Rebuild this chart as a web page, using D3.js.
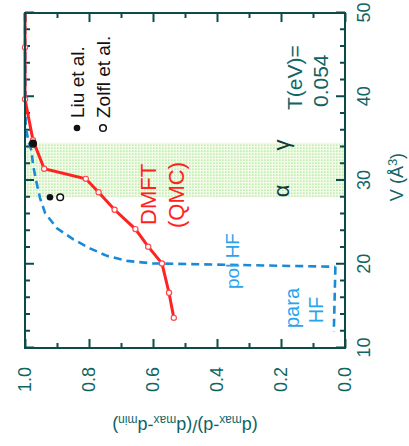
<!DOCTYPE html>
<html>
<head>
<meta charset="utf-8">
<script src="https://cdn.jsdelivr.net/npm/d3@7"></script>
<style>
  html, body { margin: 0; padding: 0; background: #ffffff; }
  svg { display: block; }
  text { font-family: "Liberation Sans", Arial, sans-serif; }
</style>
</head>
<body>
<svg id="chart" width="409" height="446"></svg>
<script>
// Axis ticks
const volumeTicks = [10, 20, 30, 40, 50];
const volumeMinorTicks = [12, 14, 16, 18, 22, 24, 26, 28, 32, 34, 36, 38, 42, 44, 46, 48];
const ratioTicks = [0.0, 0.2, 0.4, 0.6, 0.8, 1.0];
const ratioMinorTicks = [0.1, 0.3, 0.5, 0.7, 0.9];

// DMFT (QMC) double-occupancy ratio vs. volume, T = 0.054 eV
const dmftVolume = [50.0, 45.9, 39.7, 34.8, 31.4, 30.2, 28.6, 26.5, 24.2, 22.1, 20.1, 16.6, 13.6];
const dmftRatio  = [1.0, 1.0, 1.0, 0.975, 0.94, 0.81, 0.77, 0.72, 0.655, 0.615, 0.572, 0.55, 0.535];

// Polarized Hartree-Fock
const polHfVolume = [50.0, 36.5, 34.8, 33.6, 31.9, 30.1, 27.9, 26.1, 24.3, 23.0, 21.9, 21.0, 20.4, 20.1, 19.7];
const polHfRatio  = [1.0, 0.998, 0.99, 0.98, 0.975, 0.966, 0.953, 0.937, 0.9, 0.85, 0.797, 0.744, 0.681, 0.6, 0.03];

// Paramagnetic Hartree-Fock
const paraHfVolume = [19.7, 11.9];
const paraHfRatio  = [0.03, 0.035];

// Experimental alpha / gamma volumes
const liuVolume   = [34.4, 28.0];
const liuRatio    = [0.975, 0.922];
const zolflVolume = [34.4, 28.0];
const zolflRatio  = [0.975, 0.89];

// Alpha-gamma coexistence band (volume range)
const phaseBand = [28.0, 34.5];

const axisColor = "#0d4b4b";
const labelColor = "#0f6464";
const red = "#ff2222";
const blue = "#1a8ad6";
const lightBlue = "#2aa3ec";

// The figure is laid out in a 446 x 409 frame, then turned a quarter turn
// counter-clockwise so the volume axis runs up the right-hand side.
const W = 446, H = 409;
const svg = d3.select("#chart");
const defs = svg.append("defs");
const g = svg.append("g").attr("transform", `translate(0,${W}) rotate(-90)`);

const x = d3.scaleLinear().domain([10, 50]).range([98, 433]);
const y = d3.scaleLinear().domain([0, 1]).range([345, 25]);

// dotted green fill for the coexistence region
const pat = defs.append("pattern")
  .attr("id", "dots").attr("patternUnits", "userSpaceOnUse")
  .attr("width", 3).attr("height", 3);
pat.append("rect").attr("width", 3).attr("height", 3).attr("fill", "#f3fbe6");
pat.append("rect").attr("width", 1.6).attr("height", 1.6).attr("fill", "#bdeeb4");

g.append("rect")
  .attr("x", x(phaseBand[0])).attr("y", y(1))
  .attr("width", x(phaseBand[1]) - x(phaseBand[0]))
  .attr("height", y(0) - y(1))
  .attr("fill", "url(#dots)");

// ticks on all four sides, pointing inward
function styleAxis(sel) {
  sel.select(".domain").remove();
  sel.selectAll(".tick line").attr("stroke", axisColor).attr("stroke-width", 2);
  sel.selectAll("text").attr("fill", labelColor).attr("font-size", 18)
    .style("font-family", '"Liberation Sans", Arial, sans-serif');
}
const noLabel = () => "";

g.append("g").attr("transform", `translate(0,${y(0)})`)
  .call(d3.axisBottom(x).tickValues(volumeMinorTicks).tickSize(-5).tickFormat(noLabel)).call(styleAxis);
g.append("g").attr("transform", `translate(0,${y(0)})`)
  .call(d3.axisBottom(x).tickValues(volumeTicks).tickSize(-9).tickPadding(12).tickFormat(d3.format("d"))).call(styleAxis);
g.append("g").attr("transform", `translate(0,${y(1)})`)
  .call(d3.axisTop(x).tickValues(volumeMinorTicks).tickSize(-5).tickFormat(noLabel)).call(styleAxis);
g.append("g").attr("transform", `translate(0,${y(1)})`)
  .call(d3.axisTop(x).tickValues(volumeTicks).tickSize(-9).tickFormat(noLabel)).call(styleAxis);

g.append("g").attr("transform", `translate(${x(10)},0)`)
  .call(d3.axisLeft(y).tickValues(ratioMinorTicks).tickSize(-5).tickFormat(noLabel)).call(styleAxis);
g.append("g").attr("transform", `translate(${x(10)},0)`)
  .call(d3.axisLeft(y).tickValues(ratioTicks).tickSize(-9).tickPadding(19).tickFormat(d3.format(".1f"))).call(styleAxis);
g.append("g").attr("transform", `translate(${x(50)},0)`)
  .call(d3.axisRight(y).tickValues(ratioMinorTicks).tickSize(-5).tickFormat(noLabel)).call(styleAxis);
g.append("g").attr("transform", `translate(${x(50)},0)`)
  .call(d3.axisRight(y).tickValues(ratioTicks).tickSize(-9).tickFormat(noLabel)).call(styleAxis);

// curves
const line = d3.line().x(d => x(d[0])).y(d => y(d[1]));
const dmft = d3.zip(dmftVolume, dmftRatio);
const polHf = d3.zip(polHfVolume, polHfRatio);
const paraHf = d3.zip(paraHfVolume, paraHfRatio);

g.append("path").datum(polHf).attr("d", line)
  .attr("fill", "none").attr("stroke", blue).attr("stroke-width", 2.6)
  .attr("stroke-dasharray", "8,5");
g.append("path").datum(paraHf).attr("d", line)
  .attr("fill", "none").attr("stroke", blue).attr("stroke-width", 2.6)
  .attr("stroke-dasharray", "8,5");

g.append("path").datum(dmft).attr("d", line)
  .attr("fill", "none").attr("stroke", red).attr("stroke-width", 3);
g.selectAll(".dmft-pt").data(dmft.filter(d => d[0] < 50)).join("circle")
  .attr("cx", d => x(d[0])).attr("cy", d => y(d[1])).attr("r", 2.6)
  .attr("fill", "#fff").attr("stroke", "#ff4a4a").attr("stroke-width", 1.2);

// experimental points
g.selectAll(".zolfl").data(d3.zip(zolflVolume, zolflRatio)).join("circle")
  .attr("cx", d => x(d[0])).attr("cy", d => y(d[1])).attr("r", 3.3)
  .attr("fill", "#fff").attr("stroke", "#111").attr("stroke-width", 1.5);
g.selectAll(".liu").data(d3.zip(liuVolume, liuRatio)).join("circle")
  .attr("cx", d => x(d[0])).attr("cy", d => y(d[1])).attr("r", 3.3)
  .attr("fill", "#111");

// frame
g.append("rect").attr("x", x(10)).attr("y", y(1))
  .attr("width", x(50) - x(10)).attr("height", y(0) - y(1))
  .attr("fill", "none").attr("stroke", axisColor).attr("stroke-width", 2);

// text helper
function label(txt, px, py, size, color, anchor) {
  return g.append("text").attr("x", px).attr("y", py).attr("dy", "0.35em")
    .attr("font-size", size).attr("fill", color)
    .attr("text-anchor", anchor || "start").text(txt);
}

// axis titles
const vt = g.append("text").attr("x", 269).attr("y", 403)
  .attr("font-size", 18).attr("fill", labelColor).attr("text-anchor", "middle");
vt.append("tspan").text("V (Å");
vt.append("tspan").attr("font-size", 13).attr("dy", -6).text("3");
vt.append("tspan").attr("dy", 6).text(")");

const yt = g.append("text")
  .attr("transform", `translate(26,${(y(0) + y(1)) / 2}) rotate(-90)`)
  .attr("font-size", 18).attr("fill", labelColor).attr("text-anchor", "middle");
yt.append("tspan").text("(d");
yt.append("tspan").attr("font-size", 12).attr("dy", 4).text("max");
yt.append("tspan").attr("dy", -4).text("-d)/(d");
yt.append("tspan").attr("font-size", 12).attr("dy", 4).text("max");
yt.append("tspan").attr("dy", -4).text("-d");
yt.append("tspan").attr("font-size", 12).attr("dy", 4).text("min");
yt.append("tspan").attr("dy", -4).text(")");

// annotations
label("T(eV)=", 336, 295, 21, labelColor);
label("0.054", 339, 321, 21, labelColor);

g.append("circle").attr("cx", 318).attr("cy", 77).attr("r", 3.3).attr("fill", "#111");
label("Liu et al.", 328, 77, 19, "#111");
g.append("circle").attr("cx", 318).attr("cy", 103).attr("r", 3.3)
  .attr("fill", "#fff").attr("stroke", "#111").attr("stroke-width", 1.5);
label("Zolfl et al.", 328, 103, 19, "#111");

label("DMFT", 221, 148, 22, red);
label("(QMC)", 218, 176, 22, red);
label("pol HF", 157, 232, 19, lightBlue);
label("para", 138, 292, 20, lightBlue, "middle");
label("HF", 136, 316, 20, lightBlue, "middle");

label("γ", 301, 281, 22, "#0e3a3a", "middle");
label("α", 255, 281, 22, "#0e3a3a", "middle");
</script>
</body>
</html>
